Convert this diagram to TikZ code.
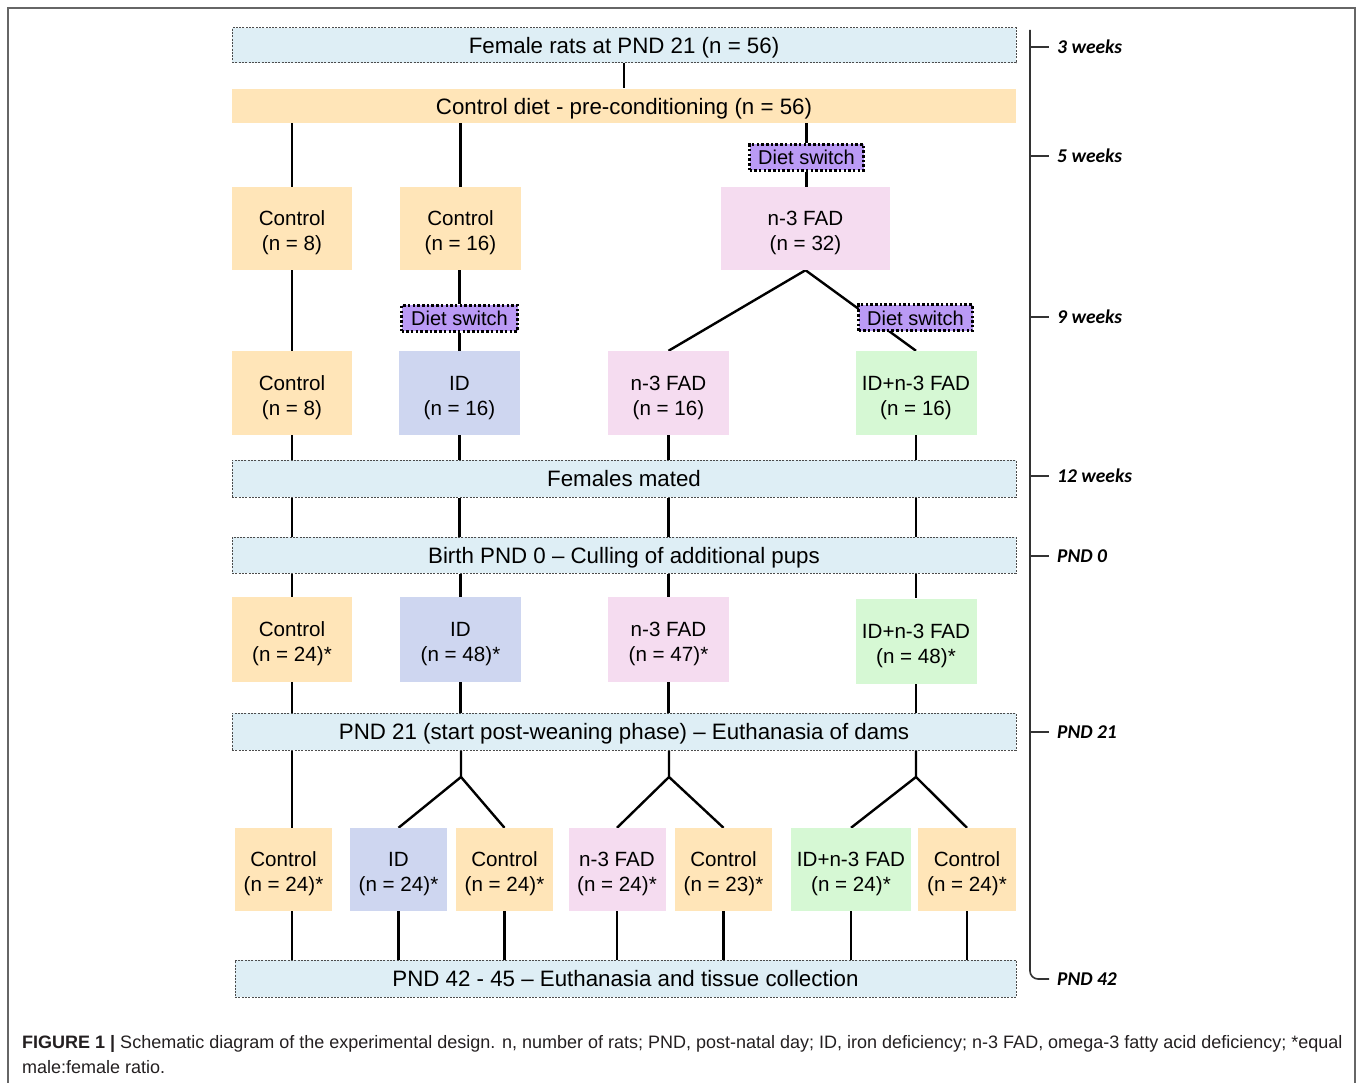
\documentclass[tikz,border=0pt]{standalone}
\usepackage{fontspec}
\setmainfont{Liberation Sans}
\newfontfamily\tlfont{Carlito}
\usetikzlibrary{calc}
\definecolor{bluebg}{RGB}{222,238,245}
\definecolor{orng}{RGB}{255,229,184}
\definecolor{pinkbg}{RGB}{245,220,240}
\definecolor{idbg}{RGB}{206,214,240}
\definecolor{grnbg}{RGB}{214,248,212}
\definecolor{purp}{RGB}{186,154,245}
\definecolor{capcol}{RGB}{35,31,32}
\pgfdeclarelayer{bg}
\pgfsetlayers{bg,main}
\tikzset{
  wide/.style={fill=bluebg, draw=black!70, line width=1pt, dash pattern=on 2pt off 1.3pt,
    minimum width=784pt, minimum height=36pt, inner sep=0pt, text depth=0pt,
    font=\fontsize{22.3}{26}\selectfont},
  grp/.style={minimum width=121pt, minimum height=84pt, inner sep=0pt, align=center,
    text height=44pt, text depth=0pt, font=\fontsize{20.6}{25}\selectfont},
  ctl/.style={grp, fill=orng},
  idb/.style={grp, fill=idbg},
  fad/.style={grp, fill=pinkbg},
  both/.style={grp, fill=grnbg},
  sw/.style={fill=purp, draw=black, line width=3pt, dash pattern=on 2.5pt off 2.2pt,
    minimum width=114pt, minimum height=26pt, inner sep=0pt, font=\fontsize{20}{22}\selectfont},
  conn/.style={line width=2.4pt, black},
  tl/.style={anchor=west, inner sep=0pt, font=\tlfont\bfseries\itshape\fontsize{19.5}{22}\selectfont},
  axis/.style={line width=1.6pt, black!80},
}
\begin{document}
\begin{tikzpicture}[x=1pt,y=-1pt]
\useasboundingbox (0,0) rectangle (1358,1083);
\draw[line width=1.5pt, black!60] (8,1090) -- (8,8) -- (1355,8) -- (1355,1090);

% wide boxes
\node[wide, minimum height=35pt] (top) at (624,45.5) {Female rats at PND 21 (n = 56)};
\node[wide, draw=none, fill=orng, minimum height=34pt] (pre) at (624,106) {Control diet - pre-conditioning (n = 56)};
\node[wide, minimum height=37pt] (mated) at (624,478.5) {Females mated};
\node[wide] (birth) at (624,555) {Birth PND 0 -- Culling of additional pups};
\node[wide, minimum height=37pt] (p21) at (624,731.5) {PND 21 (start post-weaning phase) -- Euthanasia of dams};
\node[wide, minimum width=781pt, minimum height=37pt] (p42) at (625.5,978.5) {PND 42 - 45 -- Euthanasia and tissue collection};

% row 1
\node[ctl, minimum width=120pt, minimum height=83pt] (c8a) at (292,228.5) {Control\\(n = 8)};
\node[ctl, minimum height=83pt] (c16) at (460.5,228.5) {Control\\(n = 16)};
\node[fad, minimum width=169pt, minimum height=83pt] (f32) at (805.5,228.5) {n-3 FAD\\(n = 32)};
\node[sw] (ds1) at (806.5,157.5) {Diet switch};

% row 2
\node[ctl, minimum width=120pt] (c8b) at (292,393) {Control\\(n = 8)};
\node[idb] (id16) at (459.5,393) {ID\\(n = 16)};
\node[fad] (f16) at (668.5,393) {n-3 FAD\\(n = 16)};
\node[both] (idf16) at (916,393) {ID+n-3 FAD\\(n = 16)};
\node[sw, minimum width=116pt] (ds2) at (459.5,318.5) {Diet switch};
\node[sw] (ds3) at (915.5,318) {Diet switch};

% row 3
\node[ctl, minimum width=120pt, minimum height=85pt] (c24) at (292,639.5) {Control\\(n = 24)*};
\node[idb, minimum height=85pt] (id48) at (460.5,639.5) {ID\\(n = 48)*};
\node[fad, minimum height=85pt] (f47) at (668.5,639.5) {n-3 FAD\\(n = 47)*};
\node[both, minimum height=85pt] (idf48) at (916,641) {ID+n-3 FAD\\(n = 48)*};

% row 4
\node[ctl, minimum width=97pt, minimum height=83pt] (c24b) at (283.5,869.5) {Control\\(n = 24)*};
\node[idb, minimum width=97pt, minimum height=83pt] (id24) at (398.5,869.5) {ID\\(n = 24)*};
\node[ctl, minimum width=97pt, minimum height=83pt] (c24c) at (504.5,869.5) {Control\\(n = 24)*};
\node[fad, minimum width=97pt, minimum height=83pt] (f24) at (617,869.5) {n-3 FAD\\(n = 24)*};
\node[ctl, minimum width=97pt, minimum height=83pt] (c23) at (723.5,869.5) {Control\\(n = 23)*};
\node[both, minimum width=120pt, minimum height=83pt] (idf24) at (851,869.5) {ID+n-3 FAD\\(n = 24)*};
\node[ctl, minimum width=98pt, minimum height=83pt] (c24d) at (967,869.5) {Control\\(n = 24)*};

\coordinate (br1) at (461,777);
\coordinate (br2) at (669,777);
\coordinate (br3) at (916,777);

\begin{pgfonlayer}{bg}
\draw[conn] (top.south) -- (top.south |- pre.north);
\draw[conn] (pre.south -| c8a) -- (c8a.north);
\draw[conn] (pre.south -| c16) -- (c16.north);
\draw[conn] (pre.south -| ds1) -- (ds1.north);
\draw[conn] (ds1.south) -- (ds1.south |- f32.north);
\draw[conn] (c8a.south) -- (c8b.north);
\draw[conn] (c16.south -| ds2) -- (ds2.north);
\draw[conn] (ds2.south) -- (id16.north);
\draw[conn] (f32.south) -- (f16.north);
\draw[conn] (f32.south) -- (idf16.north);
\foreach \n in {c8b,id16,f16,idf16}{
  \draw[conn] (\n.south) -- (\n.south |- mated.north);
  \draw[conn] (mated.south -| \n) -- (birth.north -| \n);
}
\foreach \n in {c24,id48,f47,idf48}{
  \draw[conn] (birth.south -| \n) -- (\n.north);
  \draw[conn] (\n.south) -- (\n.south |- p21.north);
}
\draw[conn] (p21.south -| c24) -- (c24.south |- c24b.north);
\draw[conn] (p21.south -| br1) -- (br1) -- (id24.north);
\draw[conn] (br1) -- (c24c.north);
\draw[conn] (p21.south -| br2) -- (br2) -- (f24.north);
\draw[conn] (br2) -- (c23.north);
\draw[conn] (p21.south -| br3) -- (br3) -- (idf24.north);
\draw[conn] (br3) -- (c24d.north);
\draw[conn] (c24b.south -| c24) -- (c24.south |- p42.north);
\foreach \n in {id24,c24c,f24,c23,idf24,c24d}{
  \draw[conn] (\n.south) -- (\n.south |- p42.north);
}
\end{pgfonlayer}

% timeline
\coordinate (axtop) at (1030,30);
\node[tl] (t3) at (1057,47) {3 weeks};
\node[tl] (t5) at (1057,156) {5 weeks};
\node[tl] (t9) at (1057,317) {9 weeks};
\node[tl] (t12) at (1057,476) {12 weeks};
\node[tl] (t0) at (1057,556) {PND 0};
\node[tl] (t21) at (1057,732) {PND 21};
\node[tl] (t42) at (1057,979) {PND 42};
\draw[axis, rounded corners=8pt] (axtop) -- (axtop |- t42) -- ($(t42.west)+(-8,0)$);
\foreach \t in {t3,t5,t9,t12,t0,t21}{
  \draw[axis] (axtop |- \t) -- ($(\t.west)+(-8,0)$);
}

% caption
\node[anchor=base west, inner sep=0pt, text=capcol, font=\fontsize{18}{22}\selectfont] (cap1) at (22,1048)
  {\textbf{FIGURE 1 |} Schematic diagram of the experimental design. n, number of rats; PND, post-natal day; ID, iron deficiency; n-3 FAD, omega-3 fatty acid deficiency; *equal};
\node[anchor=base west, inner sep=0pt, text=capcol, font=\fontsize{18}{22}\selectfont] (cap2) at (22,1073)
  {male:female ratio.};
\end{tikzpicture}
\end{document}
